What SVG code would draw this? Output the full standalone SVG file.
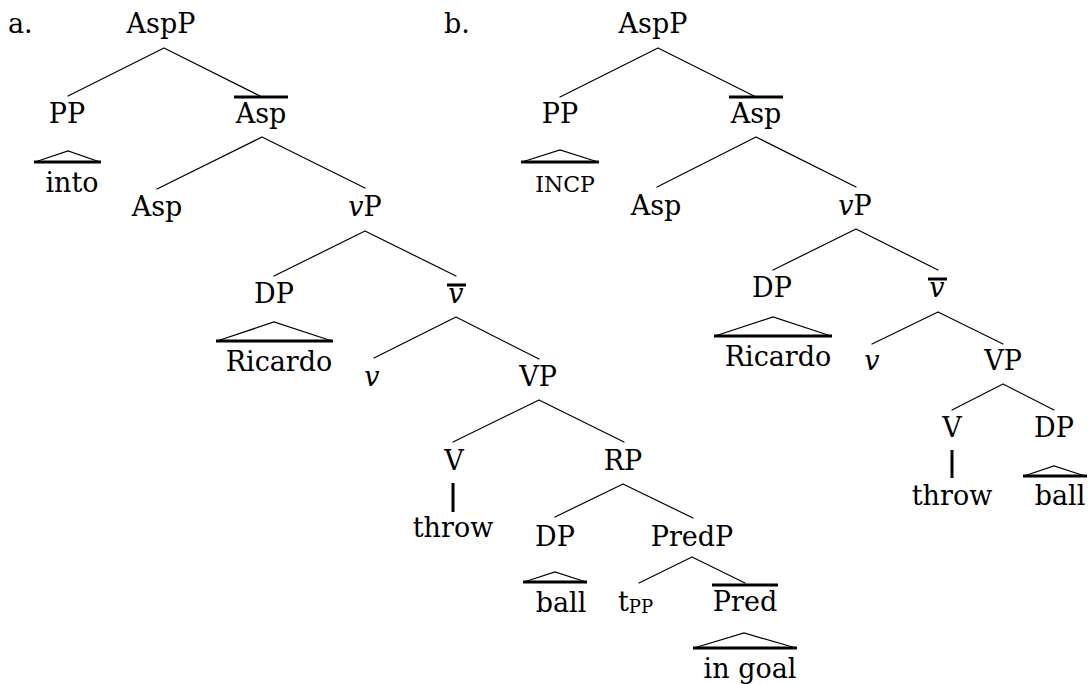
<svg xmlns="http://www.w3.org/2000/svg" width="1088" height="684" viewBox="0 0 1088 684">
  <style>
    text { font-family: "DejaVu Serif", "Liberation Serif", serif; font-size: 27px; fill: #000; text-anchor: middle; }
    .it { font-style: italic; }
    .sc { font-size: 22px; }
    .sub { font-size: 18px; }
    .lft { text-anchor: start; }
    .e { stroke: #000; stroke-width: 1.2; fill: none; stroke-linecap: round; }
    .bar { stroke: #000; stroke-width: 3; fill: none; }
    .roof { stroke: #000; stroke-width: 1.2; fill: none; }
  </style>
  <rect width="1088" height="684" fill="#fff"/>

  <!-- ===== Tree (a) ===== -->
  <g id="label-a"><text class="lft" x="8" y="33">a.</text></g>

  <g id="connectors-a">
    <path class="e" d="M164,48 L68,96 M164,48 L262,97"/>
    <path class="e" d="M262,137 L157,189 M262,137 L365,188"/>
    <path class="e" d="M365,231 L274,276 M365,231 L456,276"/>
    <path class="e" d="M456,317 L374,358 M456,317 L539,359"/>
    <path class="e" d="M539,400 L453,442 M539,400 L624,442"/>
    <path class="bar" d="M453,483 L453,512"/>
    <path class="e" d="M623,484 L555,517 M623,484 L693,518"/>
    <path class="e" d="M692,557 L639,583 M692,557 L745,583"/>
  </g>

  <g id="a-AspP"><text x="161" y="33">AspP</text></g>
  <g id="a-PP"><text x="67" y="123">PP</text></g>
  <g id="a-into">
    <path class="roof" d="M35,162 L68,151 L100,162"/>
    <path class="bar" d="M34,162 L101,162"/>
    <text x="72" y="192">into</text>
  </g>
  <g id="a-Aspbar">
    <path class="bar" d="M234,97 L288,97"/>
    <text x="261" y="123">Asp</text>
  </g>
  <g id="a-Asp"><text x="157" y="216">Asp</text></g>
  <g id="a-vP"><text x="365" y="216"><tspan class="it">v</tspan>P</text></g>
  <g id="a-DP"><text x="274" y="303">DP</text></g>
  <g id="a-Ricardo">
    <path class="roof" d="M217,341 L274,322 L332,341"/>
    <path class="bar" d="M216,341 L333,341"/>
    <text x="279" y="371">Ricardo</text>
  </g>
  <g id="a-vbar">
    <path class="bar" d="M447,285 L466,285"/>
    <text class="it" x="456" y="303">v</text>
  </g>
  <g id="a-v"><text class="it" x="372" y="386">v</text></g>
  <g id="a-VP"><text x="538" y="386">VP</text></g>
  <g id="a-V"><text x="454" y="470">V</text></g>
  <g id="a-throw"><text x="453" y="537">throw</text></g>
  <g id="a-RP"><text x="623" y="470">RP</text></g>
  <g id="a-DP2"><text x="555" y="546">DP</text></g>
  <g id="a-ball">
    <path class="roof" d="M524,582 L555,572 L586,582"/>
    <path class="bar" d="M523,582 L587,582"/>
    <text x="561" y="612">ball</text>
  </g>
  <g id="a-PredP"><text x="692" y="546">PredP</text></g>
  <g id="a-tPP">
    <text class="lft" x="618" y="611">t<tspan class="sub" dy="2">PP</tspan></text>
  </g>
  <g id="a-Predbar">
    <path class="bar" d="M712,585 L778,585"/>
    <text x="745" y="611">Pred</text>
  </g>
  <g id="a-ingoal">
    <path class="roof" d="M694,648 L744,633 L796,648"/>
    <path class="bar" d="M693,648 L797,648"/>
    <text x="750" y="678">in goal</text>
  </g>

  <!-- ===== Tree (b) ===== -->
  <g id="label-b"><text class="lft" x="444" y="33">b.</text></g>

  <g id="connectors-b">
    <path class="e" d="M658,48 L560,97 M658,48 L756,97"/>
    <path class="e" d="M756,137 L657,187 M756,137 L856,187"/>
    <path class="e" d="M856,229 L773,270 M856,229 L938,270"/>
    <path class="e" d="M938,312 L872,344 M938,312 L1003,344"/>
    <path class="e" d="M1003,384 L952,410 M1003,384 L1054,410"/>
    <path class="bar" d="M952,450 L952,478"/>
  </g>

  <g id="b-AspP"><text x="653" y="33">AspP</text></g>
  <g id="b-PP"><text x="560" y="123">PP</text></g>
  <g id="b-INCP">
    <path class="roof" d="M522,162 L560,150 L598,162"/>
    <path class="bar" d="M521,162 L599,162"/>
    <text class="sc" x="565" y="192">INCP</text>
  </g>
  <g id="b-Aspbar">
    <path class="bar" d="M729,97 L783,97"/>
    <text x="756" y="123">Asp</text>
  </g>
  <g id="b-Asp"><text x="656" y="215">Asp</text></g>
  <g id="b-vP"><text x="855" y="215"><tspan class="it">v</tspan>P</text></g>
  <g id="b-DP"><text x="772" y="297">DP</text></g>
  <g id="b-Ricardo">
    <path class="roof" d="M715,336 L773,317 L831,336"/>
    <path class="bar" d="M714,336 L832,336"/>
    <text x="778" y="366">Ricardo</text>
  </g>
  <g id="b-vbar">
    <path class="bar" d="M928,279 L947,279"/>
    <text class="it" x="937" y="297">v</text>
  </g>
  <g id="b-v"><text class="it" x="872" y="370">v</text></g>
  <g id="b-VP"><text x="1003" y="370">VP</text></g>
  <g id="b-V"><text x="952" y="437">V</text></g>
  <g id="b-throw"><text x="952" y="505">throw</text></g>
  <g id="b-DP2"><text x="1054" y="437">DP</text></g>
  <g id="b-ball">
    <path class="roof" d="M1024,476 L1054,466 L1085,476"/>
    <path class="bar" d="M1023,476 L1087,476"/>
    <text x="1060" y="505">ball</text>
  </g>
</svg>
